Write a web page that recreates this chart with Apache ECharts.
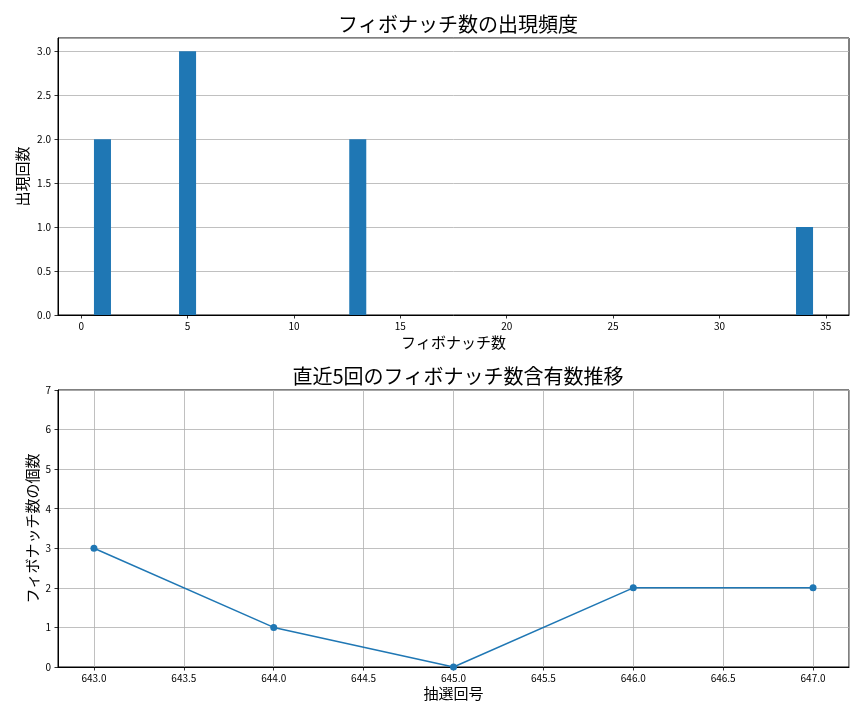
<!DOCTYPE html>
<html>
<head>
<meta charset="utf-8">
<script src="https://cdn.jsdelivr.net/npm/echarts@6/dist/echarts.min.js"></script>
<style>
html,body{margin:0;padding:0;background:#fff;}
#chart{width:864px;height:720px;}
</style>
</head>
<body>
<div id="chart"></div>
<script>
// ---- data ----
const fibNumbers = [1, 5, 13, 34];
const fibCounts = [2, 3, 2, 1];
const drawNumbers = [643, 644, 645, 646, 647];
const fibPerDraw = [3, 1, 0, 2, 2];

const title1 = 'フィボナッチ数の出現頻度';
const title2 = '直近5回のフィボナッチ数含有数推移';

const FONT = '"Noto Sans CJK JP", "Noto Sans", sans-serif';
const BLUE = '#1f77b4';
const GRID = '#b0b0b0';

const chart = echarts.init(document.getElementById('chart'), null, {renderer: 'canvas'});

const axisCommon = {
  axisLine: {show: true, onZero: false, lineStyle: {color: '#000', width: 1}},
  axisTick: {show: true, inside: false, length: 3.5, lineStyle: {color: '#000', width: 0.8}},
  nameTextStyle: {fontFamily: FONT, fontSize: 15, color: '#000'},
  nameMoveOverlap: false
};
const labelCommon = {fontFamily: FONT, fontSize: 10, color: '#000'};

const option = {
  animation: false,
  backgroundColor: '#fff',
  title: [
    {text: title1, left: 453, top: 9, textAlign: 'center',
     textStyle: {fontFamily: FONT, fontSize: 20, fontWeight: 'normal', color: '#000'}},
    {text: title2, left: 453, top: 361, textAlign: 'center',
     textStyle: {fontFamily: FONT, fontSize: 20, fontWeight: 'normal', color: '#000'}}
  ],
  grid: [
    {left: 58, top: 38, width: 791, height: 277, show: true, borderColor: '#000', borderWidth: 1, backgroundColor: 'transparent', containLabel: false},
    {left: 58, top: 390, width: 791, height: 277, show: true, borderColor: '#000', borderWidth: 1, backgroundColor: 'transparent', containLabel: false}
  ],
  xAxis: [
    Object.assign({}, axisCommon, {
      gridIndex: 0, type: 'value', min: -1.09, max: 36.09,
      minInterval: 5, maxInterval: 5,
      name: 'フィボナッチ数', nameLocation: 'middle', nameGap: 20,
      splitLine: {show: false},
      axisLabel: Object.assign({}, labelCommon, {margin: 6, showMinLabel: false, showMaxLabel: false,
        formatter: v => (Math.abs(v % 5) < 1e-6 ? String(Math.round(v)) : '')})
    }),
    Object.assign({}, axisCommon, {
      gridIndex: 1, type: 'value', min: 642.8, max: 647.2,
      minInterval: 0.5, maxInterval: 0.5,
      name: '抽選回号', nameLocation: 'middle', nameGap: 19,
      splitLine: {show: true, lineStyle: {color: GRID, width: 0.8}},
      axisLabel: Object.assign({}, labelCommon, {margin: 6, showMinLabel: false, showMaxLabel: false,
        formatter: v => (Math.abs((v * 2) - Math.round(v * 2)) < 1e-6 ? v.toFixed(1) : '')})
    })
  ],
  yAxis: [
    Object.assign({}, axisCommon, {
      gridIndex: 0, type: 'value', min: 0, max: 3.15, interval: 0.5,
      name: '出現回数', nameLocation: 'middle', nameGap: 28, nameRotate: 90,
      splitLine: {show: true, lineStyle: {color: GRID, width: 0.8}},
      axisLabel: Object.assign({}, labelCommon, {margin: 7, showMaxLabel: false,
        formatter: v => (Math.abs(v * 2 - Math.round(v * 2)) < 1e-6 ? v.toFixed(1) : '')})
    }),
    Object.assign({}, axisCommon, {
      gridIndex: 1, type: 'value', min: 0, max: 7, interval: 1,
      name: 'フィボナッチ数の個数', nameLocation: 'middle', nameGap: 18, nameRotate: 90,
      splitLine: {show: true, lineStyle: {color: GRID, width: 0.8}},
      axisLabel: Object.assign({}, labelCommon, {margin: 7})
    })
  ],
  series: [
    {
      type: 'custom', xAxisIndex: 0, yAxisIndex: 0,
      data: fibNumbers.map((n, i) => [n, fibCounts[i]]),
      renderItem: function (params, api) {
        const x = api.value(0), y = api.value(1);
        const p0 = api.coord([x - 0.4, y]);
        const p1 = api.coord([x + 0.4, 0]);
        return {
          type: 'rect',
          shape: {x: p0[0], y: p0[1], width: p1[0] - p0[0], height: p1[1] - p0[1]},
          style: {fill: BLUE}
        };
      }
    },
    {
      type: 'line', xAxisIndex: 1, yAxisIndex: 1,
      data: drawNumbers.map((d, i) => [d, fibPerDraw[i]]),
      symbol: 'circle', symbolSize: 7, showSymbol: true,
      lineStyle: {color: BLUE, width: 1.5},
      itemStyle: {color: BLUE},
      clip: false
    }
  ]
};
chart.setOption(option);
</script>
</body>
</html>
